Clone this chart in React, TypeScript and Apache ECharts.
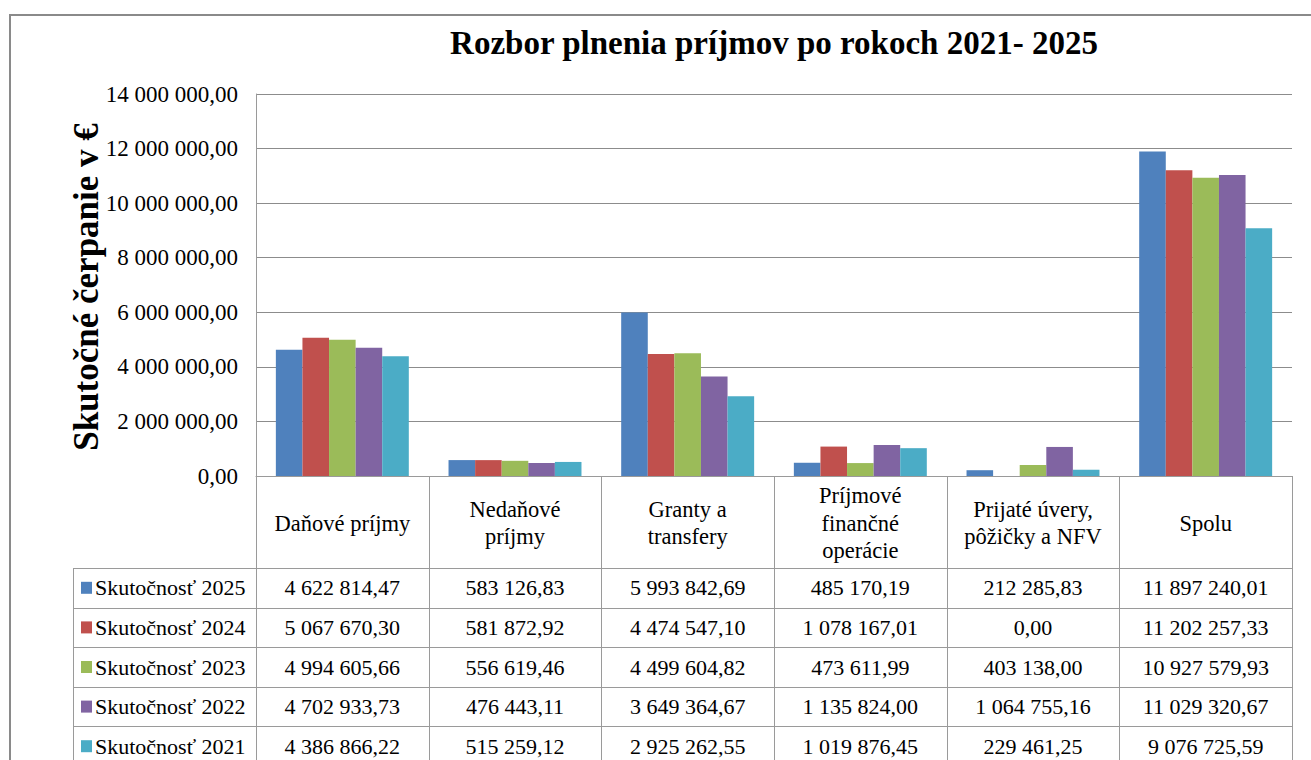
import React, { useEffect, useRef } from "react";
import * as echarts from "echarts";

const categories = [
  "Daňové príjmy",
  "Nedaňové\npríjmy",
  "Granty a\ntransfery",
  "Príjmové\nfinančné\noperácie",
  "Prijaté úvery,\npôžičky a NFV",
  "Spolu",
];
const seriesNames = [
  "Skutočnosť 2025",
  "Skutočnosť 2024",
  "Skutočnosť 2023",
  "Skutočnosť 2022",
  "Skutočnosť 2021",
];
const values2025 = [4622814.47, 583126.83, 5993842.69, 485170.19, 212285.83, 11897240.01];
const values2024 = [5067670.3, 581872.92, 4474547.1, 1078167.01, 0.0, 11202257.33];
const values2023 = [4994605.66, 556619.46, 4499604.82, 473611.99, 403138.0, 10927579.93];
const values2022 = [4702933.73, 476443.11, 3649364.67, 1135824.0, 1064755.16, 11029320.67];
const values2021 = [4386866.22, 515259.12, 2925262.55, 1019876.45, 229461.25, 9076725.59];
const seriesValues = [values2025, values2024, values2023, values2022, values2021];
const colors = ["#4F81BD", "#C0504D", "#9BBB59", "#8064A2", "#4BACC6"];
const yMin = 0;
const yMax = 14000000;
const yInterval = 2000000;

const W = 1311;
const H = 760;
const GL = 256;
const GR = 1292;
const GT = 94;
const GB = 476;
const HEADER_BOTTOM = 568;
const ROW_H = 39.6;
const LEGEND_LEFT = 73;
const FONT = "Liberation Serif";
const LINE = "#9a9a9a";

function fmt(v: number): string {
  const [i, d] = v.toFixed(2).split(".");
  return i.replace(/\B(?=(\d{3})+(?!\d))/g, " ") + "," + d;
}

function txt(text: string, x: number, y: number, size: number, extra: any = {}) {
  return {
    type: "text",
    x,
    y,
    rotation: extra.rotation || 0,
    style: {
      text,
      fontFamily: FONT,
      fontSize: size,
      fontWeight: extra.bold ? "bold" : "normal",
      lineHeight: extra.lineHeight,
      fill: "#000",
      align: extra.align || "center",
      verticalAlign: "middle",
    },
  };
}

export default function App() {
  const ref = useRef<HTMLDivElement>(null);
  useEffect(() => {
    if (!ref.current) return;
    const chart = echarts.init(ref.current, null, { renderer: "svg" });
    const catW = (GR - GL) / categories.length;
    const graphics: any[] = [];

    graphics.push({
      type: "rect",
      shape: { x: 10, y: 15, width: 1400, height: 900 },
      style: { fill: "none", stroke: "#8a8a8a", lineWidth: 2 },
      silent: true,
    });
    graphics.push(txt("Rozbor plnenia príjmov po rokoch 2021- 2025", (GL + GR) / 2, 43, 33, { bold: true }));
    graphics.push(txt("Skutočné čerpanie v €", 86, 287, 35, { bold: true, rotation: Math.PI / 2 }));

    for (let k = 0; k <= categories.length; k++) {
      const x = Math.round(GL + k * catW) + 0.5;
      graphics.push({
        type: "line",
        shape: { x1: x, y1: GB, x2: x, y2: H + 10 },
        style: { stroke: LINE, lineWidth: 1 },
      });
    }
    graphics.push({
      type: "line",
      shape: { x1: LEGEND_LEFT + 0.5, y1: HEADER_BOTTOM, x2: LEGEND_LEFT + 0.5, y2: H + 10 },
      style: { stroke: LINE, lineWidth: 1 },
    });
    for (let r = 0; r <= seriesNames.length; r++) {
      const y = Math.round(HEADER_BOTTOM + r * ROW_H) + 0.5;
      graphics.push({
        type: "line",
        shape: { x1: LEGEND_LEFT, y1: y, x2: GR + 0.5, y2: y },
        style: { stroke: LINE, lineWidth: 1 },
      });
    }
    categories.forEach((c, k) => {
      graphics.push(txt(c, GL + (k + 0.5) * catW, (GB + HEADER_BOTTOM) / 2 + 1, 22.5, { lineHeight: 27.5 }));
    });
    seriesNames.forEach((name, r) => {
      const cy = HEADER_BOTTOM + (r + 0.5) * ROW_H;
      graphics.push({
        type: "rect",
        shape: { x: 81, y: cy - 6, width: 11, height: 12 },
        style: { fill: colors[r] },
      });
      graphics.push(txt(name, 95, cy, 22, { align: "left" }));
      seriesValues[r].forEach((v, k) => {
        graphics.push(txt(fmt(v), GL + (k + 0.5) * catW, cy, 22));
      });
    });

    chart.setOption({
      animation: false,
      backgroundColor: "#fff",
      grid: { left: GL, right: W - GR, top: GT, bottom: H - GB, containLabel: false },
      xAxis: {
        type: "category",
        data: categories,
        axisLabel: { show: false },
        axisTick: { show: false },
        axisLine: { show: true, lineStyle: { color: LINE, width: 1 } },
        splitLine: { show: false },
      },
      yAxis: {
        type: "value",
        min: yMin,
        max: yMax,
        interval: yInterval,
        axisLine: { show: true, lineStyle: { color: LINE, width: 1 } },
        axisTick: { show: false },
        splitLine: { show: true, lineStyle: { color: "#8c8c8c", width: 1 } },
        axisLabel: {
          formatter: (v: number) => fmt(v),
          fontFamily: FONT,
          fontSize: 23,
          color: "#000",
          margin: 18,
        },
      },
      series: seriesNames.map((n, i) => ({
        name: n,
        type: "bar",
        data: seriesValues[i],
        barGap: "0%",
        barCategoryGap: "23%",
        itemStyle: { color: colors[i] },
      })),
      graphic: { elements: graphics },
    });
    return () => chart.dispose();
  }, []);
  return (
    <div
      ref={ref}
      style={{ position: "fixed", left: 0, top: 0, width: W, height: H, background: "#fff" }}
    />
  );
}
